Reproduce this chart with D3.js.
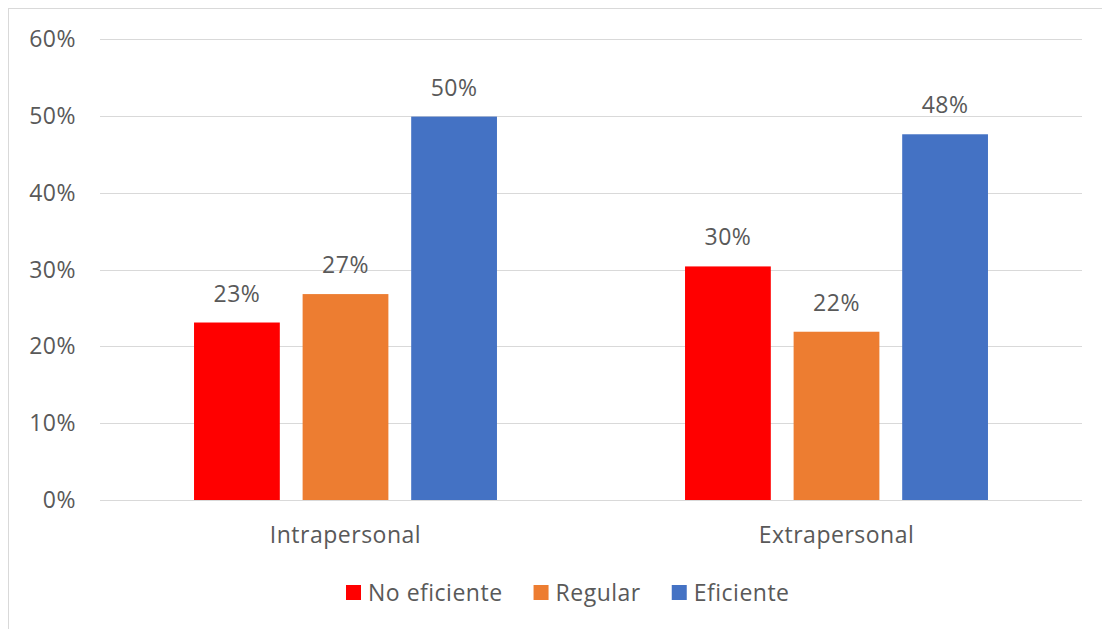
<!DOCTYPE html>
<html>
<head>
<meta charset="utf-8">
<script src="https://cdn.jsdelivr.net/npm/d3@7"></script>
<style>
  body { margin: 0; background: #fff; }
  text { font-family: "Open Sans", sans-serif; fill: #595959; letter-spacing: 0.5px; }
</style>
</head>
<body>
<svg></svg>
<script>
const categories = ['Intrapersonal', 'Extrapersonal'];
const series = ['No eficiente', 'Regular', 'Eficiente'];
const colors = ['#ff0000', '#ed7d31', '#4472c4'];
const noEficiente = [0.231, 0.304];
const regular = [0.268, 0.219];
const eficiente = [0.499, 0.476];
const yTicks = [0, 0.1, 0.2, 0.3, 0.4, 0.5, 0.6];

const values = [noEficiente, regular, eficiente];
const width = 1102, height = 629;

const svg = d3.select('svg')
  .attr('width', width)
  .attr('height', height);

// chart frame
svg.append('rect')
  .attr('x', 8.5).attr('y', 8.5)
  .attr('width', width + 10).attr('height', height - 5)
  .attr('fill', 'none')
  .attr('stroke', '#d9d9d9');

const x0 = d3.scaleBand()
  .domain(categories)
  .range([100, 1082])
  .paddingInner(0.383)
  .paddingOuter(0.1915);

const x1 = d3.scaleBand()
  .domain(series)
  .range([0, x0.bandwidth()])
  .paddingInner(0.21);

const y = d3.scaleLinear().domain([0, 0.6]).range([500, 39]);

// gridlines
svg.append('g')
  .selectAll('line')
  .data(yTicks)
  .enter().append('line')
  .attr('x1', 100).attr('x2', 1082)
  .attr('y1', d => Math.round(y(d)) + 0.5)
  .attr('y2', d => Math.round(y(d)) + 0.5)
  .attr('stroke', '#d9d9d9');

// y labels
svg.append('g')
  .selectAll('text')
  .data(yTicks)
  .enter().append('text')
  .attr('x', 76)
  .attr('y', d => y(d))
  .attr('dy', '0.35em')
  .attr('text-anchor', 'end')
  .style('font-size', '23px')
  .text(d => d3.format('.0%')(d));

const fmt = d3.format('.0%');

const groups = svg.selectAll('.group')
  .data(categories)
  .enter().append('g')
  .attr('class', 'group')
  .attr('transform', d => `translate(${x0(d)},0)`);

groups.selectAll('rect')
  .data((d, i) => series.map((s, j) => ({ s, v: values[j][i], c: colors[j] })))
  .enter().append('rect')
  .attr('x', d => x1(d.s))
  .attr('y', d => y(d.v))
  .attr('width', x1.bandwidth())
  .attr('height', d => y(0) - y(d.v))
  .attr('fill', d => d.c);

groups.selectAll('.lbl')
  .data((d, i) => series.map((s, j) => ({ s, v: values[j][i] })))
  .enter().append('text')
  .attr('class', 'lbl')
  .attr('x', d => x1(d.s) + x1.bandwidth() / 2)
  .attr('y', d => y(d.v) - 21)
  .attr('text-anchor', 'middle')
  .style('font-size', '23px')
  .text(d => fmt(d.v));

// category labels
svg.append('g')
  .selectAll('text')
  .data(categories)
  .enter().append('text')
  .attr('x', d => x0(d) + x0.bandwidth() / 2)
  .attr('y', 535)
  .attr('dy', '0.35em')
  .attr('text-anchor', 'middle')
  .style('font-size', '23px')
  .text(d => d);

// legend
const legend = svg.append('g').attr('transform', 'translate(0,593)');
let lx = 346;
series.forEach((s, i) => {
  legend.append('rect')
    .attr('x', lx).attr('y', -8)
    .attr('width', 15).attr('height', 15)
    .attr('fill', colors[i]);
  const t = legend.append('text')
    .attr('x', lx + 22)
    .attr('y', 0)
    .attr('dy', '0.35em')
    .style('font-size', '23px')
    .text(s);
  lx += 22 + t.node().getComputedTextLength() + 31;
});
</script>
</body>
</html>
